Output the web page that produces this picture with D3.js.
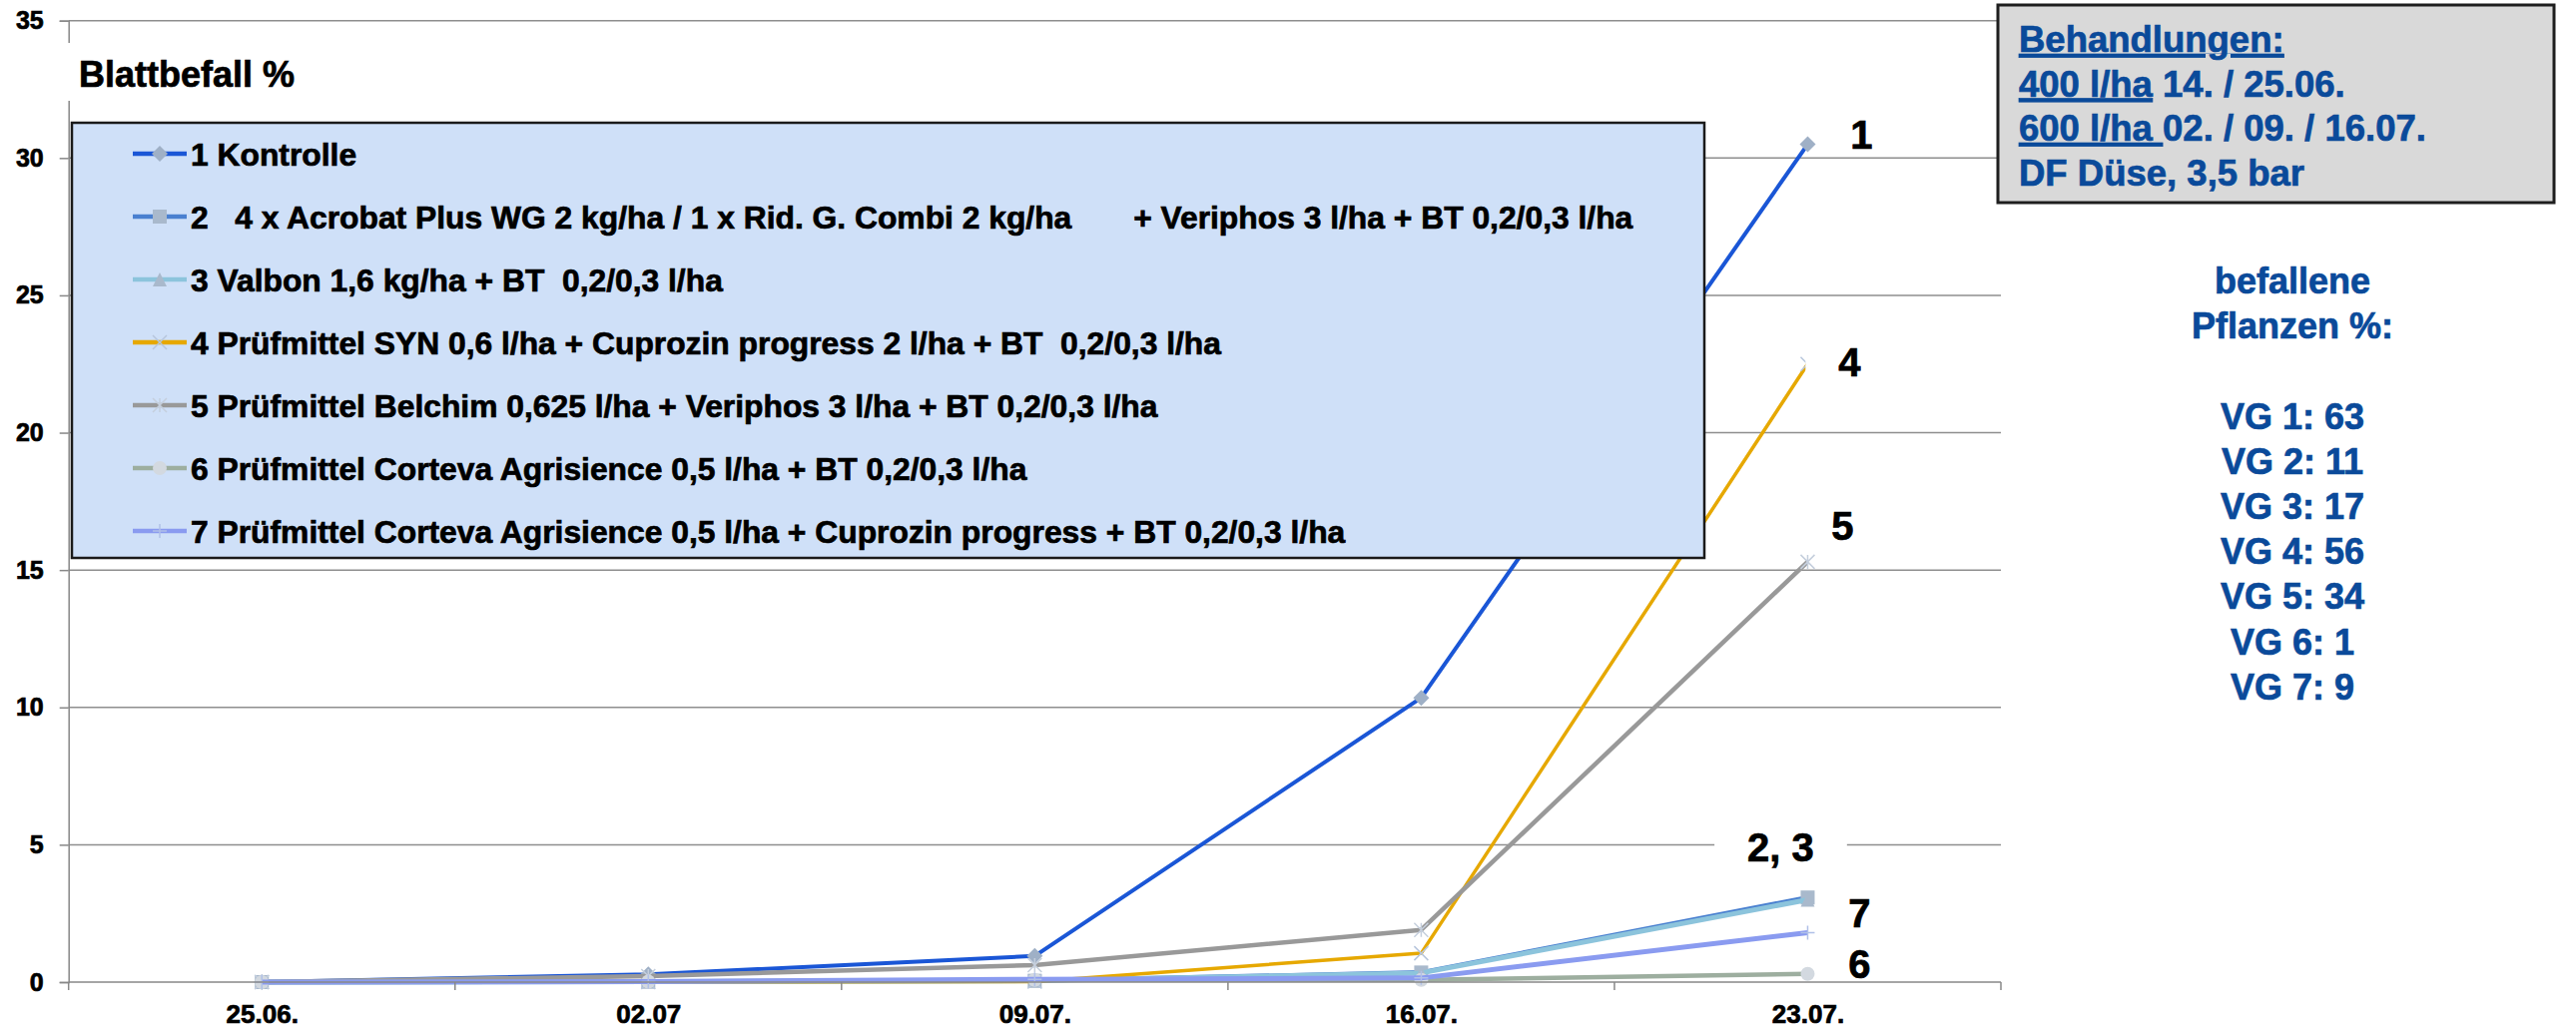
<!DOCTYPE html>
<html>
<head>
<meta charset="utf-8">
<script src="https://cdn.jsdelivr.net/npm/d3@7"></script>
<style>
  html, body { margin: 0; padding: 0; background: #fff; }
  svg text { font-family: "Liberation Sans", Arial, sans-serif; font-weight: bold; white-space: pre; }
</style>
</head>
<body>
<svg id="chart" width="2580" height="1031"></svg>
<script>
// ---------- data ----------
const categories = ["25.06.", "02.07", "09.07.", "16.07.", "23.07."];
const yTicks = [0, 5, 10, 15, 20, 25, 30, 35];

const seriesNames = [
  "1 Kontrolle",
  "2   4 x Acrobat Plus WG 2 kg/ha / 1 x Rid. G. Combi 2 kg/ha       + Veriphos 3 l/ha + BT 0,2/0,3 l/ha",
  "3 Valbon 1,6 kg/ha + BT  0,2/0,3 l/ha",
  "4 Prüfmittel SYN 0,6 l/ha + Cuprozin progress 2 l/ha + BT  0,2/0,3 l/ha",
  "5 Prüfmittel Belchim 0,625 l/ha + Veriphos 3 l/ha + BT 0,2/0,3 l/ha",
  "6 Prüfmittel Corteva Agrisience 0,5 l/ha + BT 0,2/0,3 l/ha",
  "7 Prüfmittel Corteva Agrisience 0,5 l/ha + Cuprozin progress + BT 0,2/0,3 l/ha"
];
const s1 = [0, 0.28, 0.95, 10.35, 30.5];
const s2 = [0, 0.02, 0.05, 0.35, 3.08];
const s3 = [0, 0.02, 0.05, 0.33, 3.0];
const s4 = [0, 0, 0.02, 1.05, 22.5];
const s5 = [0, 0.22, 0.62, 1.9, 15.3];
const s6 = [0, 0.02, 0.08, 0.08, 0.3];
const s7 = [0, 0.02, 0.1, 0.15, 1.8];
const seriesValues = [s1, s2, s3, s4, s5, s6, s7];

const lineColors = ["#1A56D6", "#4A80D0", "#8CC4DC", "#E6A800", "#999999", "#9DAE9F", "#8A9BF0"];
const markerShapes = ["diamond", "square", "triangle", "x", "asterisk", "circle", "plus"];
const markerColors = ["#9FB0C6", "#A9B9CC", "#A9B9CC", "#B7C6DC", "#C5CFDD", "#D3D9E0", "#B0C0E8"];
const lineWidths = [4, 4.5, 5, 3.5, 4.5, 4.5, 5];

// end-of-line annotations (value = vertical centre in data units)
const annoTexts = ["1", "4", "5", "2, 3", "7", "6"];
const annoValues = [30.85, 22.57, 16.6, 4.92, 2.53, 0.65];
const annoDx = [54, 42, 35, -27, 52, 52];

const yTitle = "Blattbefall %";
const boxLines = [
  [{t: "Behandlungen:", u: true}],
  [{t: "400 l/ha", u: true}, {t: " 14. / 25.06.", u: false}],
  [{t: "600 l/ha ", u: true}, {t: "02. / 09. / 16.07.", u: false}],
  [{t: "DF Düse, 3,5 bar", u: false}]
];
const sideLines = ["befallene", "Pflanzen %:", "", "VG 1: 63", "VG 2: 11", "VG 3: 17", "VG 4: 56", "VG 5: 34", "VG 6: 1", "VG 7: 9"];

// ---------- layout ----------
const svg = d3.select("#chart");
svg.append("rect").attr("width", 2580).attr("height", 1031).attr("fill", "#fff");

const plotL = 68.7, plotR = 2004, plotT = 20.7, plotB = 984;
const x = d3.scaleBand().domain(categories).range([plotL, plotR]).padding(0);
const xc = d => x(d) + x.bandwidth() / 2;
const y = d3.scaleLinear().domain([0, 35]).range([plotB, plotT]);

function bolden(sel, color) {
  return sel.attr("stroke", color).attr("stroke-width", 0.7).attr("paint-order", "stroke");
}

// gridlines
svg.append("g").selectAll("line").data(yTicks.filter(v => v > 0)).join("line")
  .attr("x1", plotL).attr("x2", plotR)
  .attr("y1", d => y(d)).attr("y2", d => y(d))
  .attr("stroke", "#8E8E8E").attr("stroke-width", 1.5);

// y axis
const yAxis = svg.append("g").attr("transform", `translate(${plotL},0)`)
  .call(d3.axisLeft(y).tickValues(yTicks).tickSize(9).tickPadding(16).tickFormat(d3.format("d")));
yAxis.select(".domain").attr("stroke", "#888").attr("stroke-width", 1.5);
yAxis.selectAll(".tick line").attr("stroke", "#888").attr("stroke-width", 1.5);
bolden(yAxis.selectAll(".tick text").attr("font-size", 25).attr("fill", "#000")
  .style("font-family", '"Liberation Sans", Arial, sans-serif'), "#000");

// title with white background
svg.append("rect").attr("x", 60).attr("y", 43).attr("width", 255).attr("height", 58).attr("fill", "#fff");
bolden(svg.append("text").attr("x", 79).attr("y", 87).attr("font-size", 36).attr("fill", "#000").text(yTitle), "#000");

// lines + markers
const line = d3.line().x((d, i) => xc(categories[i])).y(d => y(d));
function marker(g, shape, cx, cy, color, s) {
  const h = s / 2;
  if (shape === "diamond") {
    g.append("path").attr("d", `M${cx},${cy - h - 1}L${cx + h + 1},${cy}L${cx},${cy + h + 1}L${cx - h - 1},${cy}Z`).attr("fill", color);
  } else if (shape === "square") {
    g.append("rect").attr("x", cx - h).attr("y", cy - h).attr("width", s).attr("height", s).attr("fill", color);
  } else if (shape === "triangle") {
    g.append("path").attr("d", `M${cx},${cy - h}L${cx + h},${cy + h}L${cx - h},${cy + h}Z`).attr("fill", color);
  } else if (shape === "circle") {
    g.append("circle").attr("cx", cx).attr("cy", cy).attr("r", h).attr("fill", color);
  } else if (shape === "x") {
    g.append("path").attr("d", `M${cx - h},${cy - h}L${cx + h},${cy + h}M${cx - h},${cy + h}L${cx + h},${cy - h}`)
      .attr("stroke", color).attr("stroke-width", 1.5).attr("fill", "none");
  } else if (shape === "asterisk") {
    g.append("path").attr("d", `M${cx - h},${cy - h}L${cx + h},${cy + h}M${cx - h},${cy + h}L${cx + h},${cy - h}M${cx},${cy - h}L${cx},${cy + h}`)
      .attr("stroke", color).attr("stroke-width", 1.5).attr("fill", "none");
  } else if (shape === "plus") {
    g.append("path").attr("d", `M${cx - h},${cy}L${cx + h},${cy}M${cx},${cy - h}L${cx},${cy + h}`)
      .attr("stroke", color).attr("stroke-width", 1.5).attr("fill", "none");
  }
}

seriesValues.forEach((vals, si) => {
  const g = svg.append("g");
  g.append("path").datum(vals).attr("d", line).attr("fill", "none")
    .attr("stroke", lineColors[si]).attr("stroke-width", lineWidths[si]).attr("stroke-linejoin", "round");
  vals.forEach((v, i) => marker(g, markerShapes[si], xc(categories[i]), y(v), markerColors[si], 14));
});

// annotations with white background
const lastX = xc(categories[categories.length - 1]);
annoTexts.forEach((t, i) => {
  const cx = lastX + annoDx[i];
  const cy = y(annoValues[i]);
  const fs = 40;
  const g = svg.append("g");
  const txt = bolden(g.append("text").attr("x", cx).attr("y", cy + fs * 0.358).attr("text-anchor", "middle")
    .attr("font-size", fs).attr("fill", "#000").text(t), "#000");
  const w = txt.node().getComputedTextLength();
  g.insert("rect", "text").attr("x", cx - w / 2 - 33).attr("y", cy - 20).attr("width", w + 66).attr("height", 40).attr("fill", "#fff");
});

// x axis (drawn after annotations so the baseline stays visible)
svg.append("line").attr("x1", plotL).attr("x2", plotR).attr("y1", plotB).attr("y2", plotB)
  .attr("stroke", "#888").attr("stroke-width", 1.5);
const bounds = categories.map(c => x(c)).concat([x(categories[categories.length - 1]) + x.bandwidth()]);
svg.append("g").selectAll("line").data(bounds).join("line")
  .attr("x1", d => d).attr("x2", d => d).attr("y1", plotB).attr("y2", plotB + 8)
  .attr("stroke", "#888").attr("stroke-width", 1.5);
const xAxis = svg.append("g").attr("transform", `translate(0,${plotB})`)
  .call(d3.axisBottom(d3.scalePoint().domain(categories).range([xc(categories[0]), lastX])).tickSize(0).tickPadding(23));
xAxis.select(".domain").remove();
bolden(xAxis.selectAll(".tick text").attr("font-size", 26).attr("fill", "#000")
  .style("font-family", '"Liberation Sans", Arial, sans-serif'), "#000");

// legend
const lg = svg.append("g");
lg.append("rect").attr("x", 72).attr("y", 123).attr("width", 1635).attr("height", 436)
  .attr("fill", "#CFE0F8").attr("stroke", "#1A1A1A").attr("stroke-width", 2.5);
seriesNames.forEach((name, i) => {
  const cy = 154 + i * 63;
  lg.append("line").attr("x1", 133).attr("x2", 187).attr("y1", cy).attr("y2", cy)
    .attr("stroke", lineColors[i]).attr("stroke-width", 4.5);
  marker(lg, markerShapes[i], 160, cy, markerColors[i], 14);
  bolden(lg.append("text").attr("x", 191).attr("y", cy + 11.5).attr("font-size", 31.8).attr("fill", "#000").text(name), "#000");
});

// info box
svg.append("rect").attr("x", 2001).attr("y", 5).attr("width", 557).attr("height", 198)
  .attr("fill", "#D9D9D9").attr("stroke", "#1E1E1E").attr("stroke-width", 3);
boxLines.forEach((parts, i) => {
  const t = bolden(svg.append("text").attr("x", 2022).attr("y", 52 + i * 44.5).attr("font-size", 36.5).attr("fill", "#0A4A9A"), "#0A4A9A");
  parts.forEach(p => {
    const ts = t.append("tspan").text(p.t);
    if (p.u) ts.attr("text-decoration", "underline");
  });
});

// side text
sideLines.forEach((s, i) => {
  if (!s) return;
  bolden(svg.append("text").attr("x", 2296).attr("y", 281 + i * 45.2 + 13).attr("text-anchor", "middle")
    .attr("font-size", 36).attr("fill", "#0A4A9A").text(s), "#0A4A9A");
});
</script>
</body>
</html>
